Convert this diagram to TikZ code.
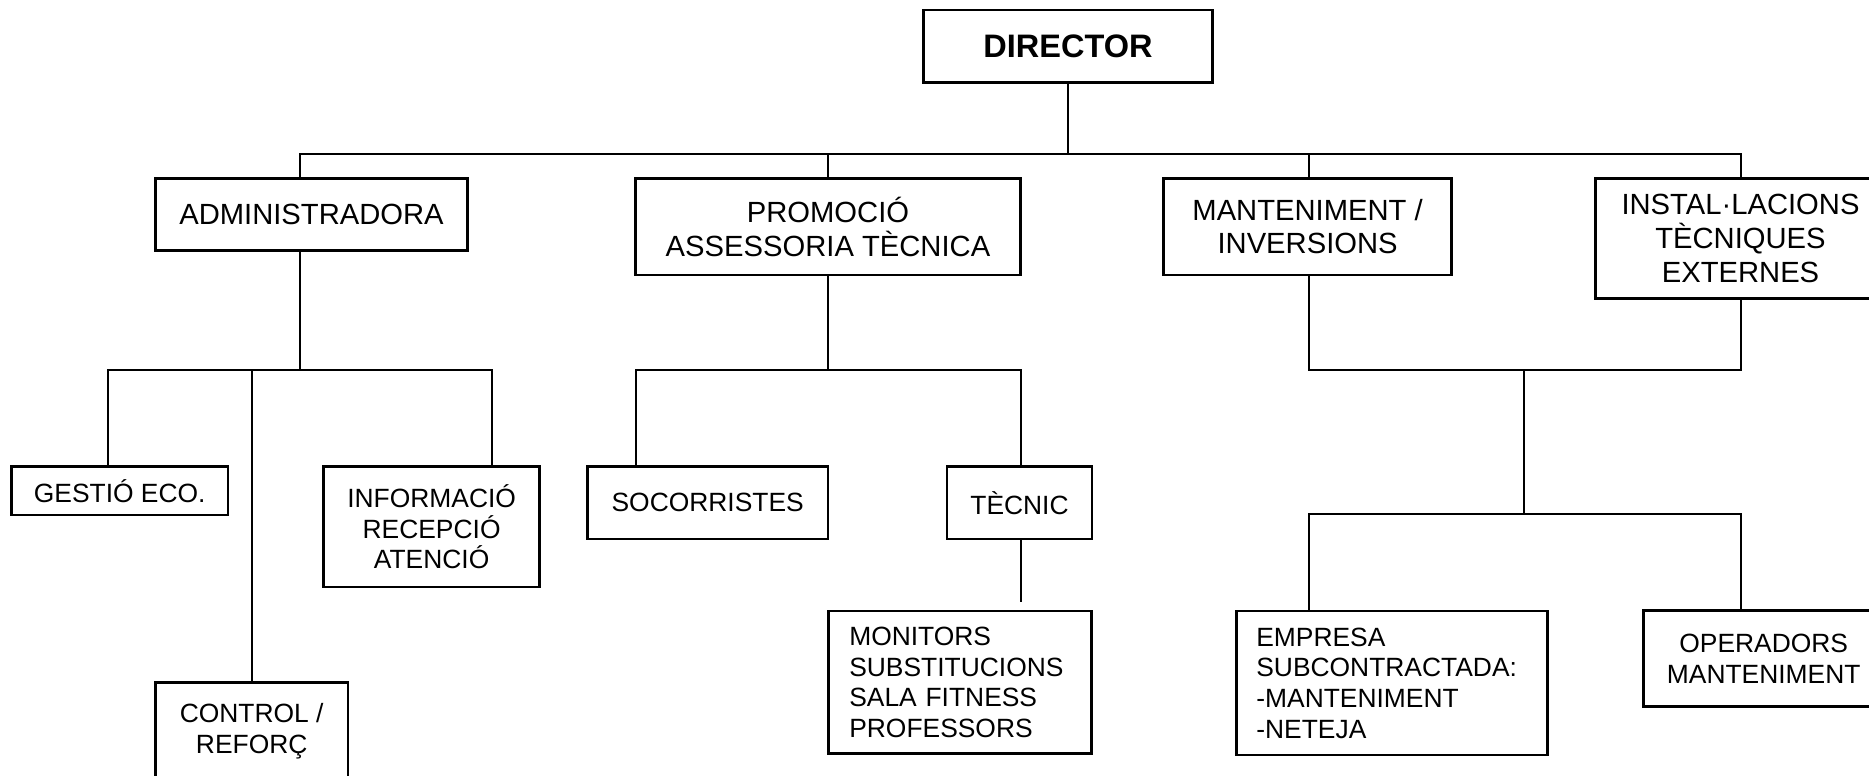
\documentclass[tikz,border=0pt]{standalone}
\usepackage{fontspec}
\setmainfont{Liberation Sans}
\begin{document}
\begin{tikzpicture}[x=1pt,y=-1pt]
\tikzset{
  box/.style={draw, line width=2.5pt, inner sep=0pt, align=center,
    font=\fontsize{26.4}{30.7}\selectfont},
  bigbox/.style={box, font=\fontsize{29.2}{33.6}\selectfont},
  dirbox/.style={box, font=\bfseries\fontsize{32.5}{37}\selectfont},
  leftbox/.style={box, align=left, inner xsep=21pt, inner ysep=0pt},
  conn/.style={line width=2pt, line cap=rect}
}
\useasboundingbox (0,0) rectangle (1869,776);
\fill[white] (0,0) rectangle (1869,776);
\clip (0,0) rectangle (1869,776);

% level 0
\node[dirbox, minimum width=289pt, minimum height=72.3pt] (dir) at (1068,46.2) {DIRECTOR};

% level 1
\node[bigbox, minimum width=312pt, minimum height=72.4pt] (admin) at (311.5,214.5) {ADMINISTRADORA};
\node[bigbox, minimum width=385pt, minimum height=96.7pt] (promo) at (828,226.7) {PROMOCIÓ\\ASSESSORIA TÈCNICA};
\node[bigbox, minimum width=288pt, minimum height=96.7pt] (mant) at (1307.6,226.7) {MANTENIMENT /\\INVERSIONS};
\node[bigbox, minimum width=290pt, minimum height=120pt] (instal) at (1740.5,238.5) {INSTAL·LACIONS\\TÈCNIQUES\\EXTERNES};

% level 2
\node[box, minimum width=216.8pt, minimum height=48.7pt] (gestio) at (119.7,490.7) {GESTIÓ ECO.};
\node[box, minimum width=192.4pt, minimum height=98pt] (ctrl) at (251.7,731.5) {CONTROL /\\REFORÇ};
\node[box, minimum width=216.2pt, minimum height=120.7pt] (info) at (431.6,526.7) {INFORMACIÓ\\RECEPCIÓ\\ATENCIÓ};
\node[box, minimum width=240.6pt, minimum height=72.7pt] (soc) at (707.7,502.7) {SOCORRISTES};
\node[box, minimum width=145pt, minimum height=72.7pt] (tec) at (1019.5,502.7) {TÈCNIC};

% level 3
\node[leftbox, text width=221.4pt, minimum width=263.4pt, minimum height=142.5pt] (mon) at (960,682.3)
  {MONITORS\\SUBSTITUCIONS\\SALA FITNESS\\PROFESSORS};
\node[leftbox, inner xsep=20pt, text width=271.3pt, minimum width=311.3pt, minimum height=144pt] (emp) at (1392,683)
  {EMPRESA\\SUBCONTRACTADA:\\-MANTENIMENT\\-NETEJA};
\node[box, minimum width=240pt, minimum height=96pt] (oper) at (1763.7,658.7) {OPERADORS\\MANTENIMENT};

% junction coordinates
\coordinate (busL) at (299.6,154.3);
\coordinate (busR) at (1740.5,154.3);
\coordinate (aL) at (107.8,370.3);
\coordinate (aJ) at (299.6,370.3);
\coordinate (aR) at (492,370.3);
\coordinate (pL) at (635.6,370.3);
\coordinate (pR) at (1020.5,370.3);
\coordinate (mL) at (1308.5,370.3);
\coordinate (mJ) at (1524.3,370.3);
\coordinate (mR) at (1740.5,370.3);
\coordinate (eL) at (1308.5,514.3);
\coordinate (eJ) at (1524.3,514.3);
\coordinate (eR) at (1740.5,514.3);

% connectors level 0 -> 1
\draw[conn] (dir.south) -- (dir.south |- busL);
\draw[conn] (busL) -- (busR);
\draw[conn] (busL) -- (busL |- admin.north);
\draw[conn] (promo.north) -- (promo.north |- busL);
\draw[conn] (mL |- mant.north) -- (mL |- busL);
\draw[conn] (busR) -- (busR |- instal.north);

% administradora
\draw[conn] (aJ |- admin.south) -- (aJ);
\draw[conn] (aL) -- (aR);
\draw[conn] (aL) -- (aL |- gestio.north);
\draw[conn] (aJ -| ctrl.north) -- (ctrl.north);
\draw[conn] (aR) -- (aR |- info.north);

% promocio
\draw[conn] (promo.south) -- (promo.south |- pL);
\draw[conn] (pL) -- (pR);
\draw[conn] (pL) -- (pL |- soc.north);
\draw[conn] (pR) -- (pR |- tec.north);
\draw[conn, shorten >=9pt] (pR |- tec.south) -- (pR |- mon.north);

% manteniment / instal.lacions
\draw[conn] (mL |- mant.south) -- (mL);
\draw[conn] (mR |- instal.south) -- (mR);
\draw[conn] (mL) -- (mR);
\draw[conn] (mJ) -- (eJ);
\draw[conn] (eL) -- (eR);
\draw[conn] (eL) -- (eL |- emp.north);
\draw[conn] (eR) -- (eR |- oper.north);
\end{tikzpicture}
\end{document}
